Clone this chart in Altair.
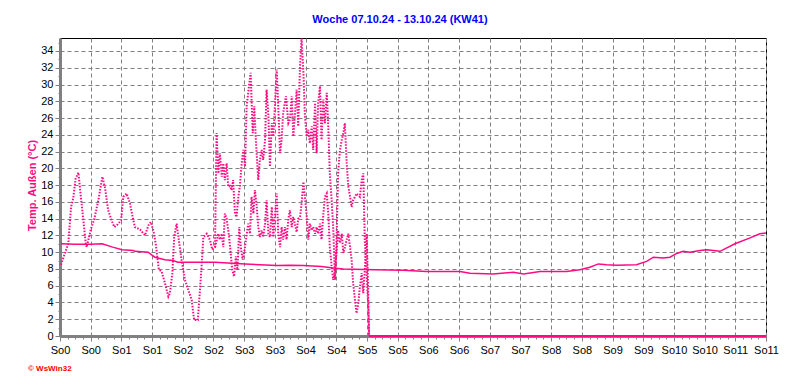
import altair as alt
import pandas as pd

# x positions are in axis units (one unit = one grid column, 0..23)
outdoor_x = [0.03, 0.27, 0.36, 0.43, 0.51, 0.60, 0.68, 0.76, 0.84, 0.87, 0.92, 1.01, 1.12, 1.25, 1.38, 1.47,
             1.57, 1.68, 1.77, 1.85, 1.99, 2.06, 2.17, 2.28, 2.39, 2.44, 2.61, 2.77, 2.88, 2.96, 3.04, 3.12,
             3.18, 3.22, 3.31, 3.42, 3.53, 3.58, 3.66, 3.72, 3.80, 3.85, 3.96, 4.07, 4.18, 4.29, 4.37, 4.49,
             4.56, 4.62, 4.67, 4.78, 4.89, 4.96, 5.05, 5.10, 5.16, 5.21, 5.27, 5.32, 5.37, 5.43, 5.48, 5.54,
             5.59, 5.64, 5.70, 5.75, 5.81, 5.86, 5.92, 5.97, 6.03, 6.08, 6.17, 6.21, 6.28, 6.33, 6.38, 6.46,
             6.51, 6.57, 6.62, 6.68, 6.73, 6.79, 6.84, 6.90, 6.95, 7.06, 7.11, 7.17, 7.22, 7.27, 7.36, 7.44,
             7.49, 7.55, 7.60, 7.65, 7.71, 7.76, 7.82, 7.87, 7.93, 7.98, 8.04, 8.09, 8.14, 8.20, 8.25, 8.31,
             8.36, 8.41, 8.47, 8.52, 8.58, 8.63, 8.69, 8.74, 8.79, 8.85, 8.90, 8.96, 9.01, 9.06, 9.12, 9.18,
             9.23, 9.28, 9.34, 9.39, 9.45, 9.50, 9.55, 9.61, 9.66, 9.77, 9.83, 9.88, 9.93, 9.99, 10.04, 10.07]
outdoor_t = [8.5, 11.0, 15.4, 16.4, 18.8, 19.5, 16.6, 13.8, 11.0, 10.6, 11.4, 12.8, 14.0, 16.2, 19.0, 17.6,
             15.0, 13.8, 13.0, 13.2, 13.8, 16.6, 17.0, 15.8, 13.8, 13.0, 12.7, 12.0, 13.2, 13.6, 12.6, 11.0,
             9.1, 7.9, 7.7, 6.3, 4.7, 5.1, 7.5, 11.8, 13.4, 12.0, 9.1, 6.7, 5.5, 4.3, 1.9, 1.9,
             5.5, 8.7, 11.8, 12.2, 11.4, 10.3, 10.6, 24.2, 19.4, 21.8, 19.0, 20.6, 18.6, 20.6, 17.8, 17.9,
             17.4, 18.6, 14.6, 14.2, 16.6, 17.9, 20.6, 22.2, 20.2, 27.4, 30.2, 31.4, 24.2, 27.4, 23.4, 18.6,
             21.0, 22.2, 21.0, 23.4, 29.4, 26.2, 20.2, 25.4, 23.8, 31.8, 27.4, 21.8, 23.4, 26.6, 28.6, 25.4,
             25.8, 28.6, 23.8, 26.2, 29.4, 25.0, 32.2, 35.5, 31.4, 26.2, 23.8, 24.6, 23.0, 25.0, 22.2, 27.8,
             21.8, 27.8, 29.8, 23.4, 28.2, 25.4, 29.0, 25.0, 19.4, 16.2, 13.0, 6.7, 11.4, 19.4, 22.2, 23.4,
             24.2, 25.4, 20.6, 17.9, 16.6, 15.4, 16.2, 16.6, 17.0, 16.6, 18.6, 19.4, 11.4, 7.5, 3.5, 0.0]

shade_x = [5.05, 5.16, 5.21, 5.27, 5.32, 5.37, 5.43, 5.51, 5.56, 5.61, 5.67, 5.73, 5.78, 5.84, 5.89, 5.95,
           6.00, 6.06, 6.13, 6.19, 6.24, 6.30, 6.35, 6.41, 6.46, 6.51, 6.57, 6.62, 6.68, 6.73, 6.79, 6.84,
           6.90, 6.95, 7.00, 7.06, 7.11, 7.17, 7.22, 7.27, 7.33, 7.38, 7.44, 7.49, 7.55, 7.60, 7.65, 7.71,
           7.76, 7.82, 7.87, 7.93, 7.98, 8.04, 8.09, 8.14, 8.20, 8.25, 8.31, 8.36, 8.41, 8.47, 8.52, 8.58,
           8.63, 8.69, 8.74, 8.79, 8.85, 8.90, 8.96, 9.01, 9.06, 9.12, 9.18, 9.23, 9.28, 9.34, 9.39, 9.45,
           9.50, 9.55, 9.61, 9.66, 9.72, 9.77, 9.83, 9.88, 9.93, 9.99, 10.04, 10.07]
shade_t = [10.6, 12.2, 11.5, 12.2, 10.6, 14.6, 14.0, 11.8, 9.9, 7.9, 7.1, 9.5, 7.9, 13.0, 10.6, 9.1,
           9.9, 11.5, 13.4, 12.2, 16.6, 14.6, 17.4, 15.4, 13.0, 11.8, 12.6, 11.8, 13.4, 16.2, 12.2, 11.8,
           15.4, 11.8, 14.2, 17.0, 12.2, 10.6, 13.0, 11.5, 13.0, 11.5, 14.0, 15.0, 13.0, 14.2, 13.4, 12.4,
           14.0, 14.2, 15.8, 18.4, 16.6, 14.2, 11.5, 13.4, 12.6, 13.0, 12.2, 13.0, 12.2, 13.4, 11.5, 14.6,
           16.6, 17.0, 14.6, 10.6, 8.3, 6.7, 7.9, 9.9, 12.6, 11.1, 12.2, 9.9, 10.6, 11.5, 12.2, 10.6,
           9.1, 6.3, 4.3, 2.7, 3.9, 5.9, 7.5, 5.1, 7.9, 12.2, 5.5, 0.0]

offline_x = [10.07, 23.0]
offline_t = [0.0, 0.0]

mean_x = [0.03, 0.5, 1.0, 1.37, 1.72, 2.02, 2.39, 2.44, 2.87, 3.09, 3.42, 3.68, 3.84, 5.05, 6.03, 7.07,
          7.49, 7.93, 8.52, 8.90, 9.23, 10.26, 11.18, 11.94, 13.03, 13.36, 14.11, 14.77, 15.10, 15.64, 16.50,
          16.94, 17.26, 17.54, 17.81, 18.13, 18.78, 19.11, 19.33, 19.65, 19.87, 20.09, 20.30, 20.52, 20.85,
          21.07, 21.50, 21.99, 22.48, 22.80, 23.0]
mean_t = [11.0, 10.95, 10.95, 11.0, 10.6, 10.3, 10.2, 10.1, 10.0, 9.4, 9.1, 9.0, 8.8, 8.8, 8.6, 8.4,
          8.45, 8.4, 8.3, 8.1, 8.0, 7.9, 7.85, 7.7, 7.7, 7.5, 7.4, 7.6, 7.4, 7.7, 7.7,
          7.9, 8.2, 8.6, 8.5, 8.45, 8.5, 8.9, 9.4, 9.3, 9.4, 9.85, 10.1, 10.0, 10.2,
          10.3, 10.1, 11.0, 11.7, 12.2, 12.3]

x_major = list(range(0, 24))
x_minor = [i * 0.25 for i in range(93)]
y_major = list(range(0, 36, 2))
y_minor = list(range(0, 36))

TITLE = "Woche 07.10.24 - 13.10.24 (KW41)"
Y_TITLE = "Temp. Außen (°C)"
CREDIT = "© WsWin32"

PINK = "#ff0a82"
FONT = "Liberation Sans"

xs = alt.Scale(domain=[0, 23], nice=False, zero=False)
ys = alt.Scale(domain=[0, 35.55], nice=False, zero=False)

x_axis = alt.Axis(
    values=x_major, tickCount=500,
    labelExpr="'So' + floor(datum.value / 2)",
    labelOverlap=False, labelFlush=False, labelBound=False,
    tickSize=5, title=None, labelPadding=3, orient="bottom",
)
y_axis = alt.Axis(
    values=y_major, tickCount=500, format="d",
    labelOverlap=False, labelFlush=False, labelBound=False,
    tickSize=5, orient="left",
    title=Y_TITLE, titleColor=PINK, titleFontWeight="bold", titleFontSize=11,
    titleFont=FONT, titleX=-23, titleY=147, titleAngle=-90, titleBaseline="bottom",
    labelPadding=2,
)
x_minor_axis = alt.Axis(values=x_minor, tickCount=500, labels=False, grid=False, domain=False,
                        tickSize=3, title=None, orient="bottom")
y_minor_axis = alt.Axis(values=y_minor, tickCount=500, labels=False, grid=False, domain=False,
                        tickSize=2, title=None, orient="left")

df_out = pd.DataFrame({"x": outdoor_x, "t": outdoor_t})
df_shade = pd.DataFrame({"x": shade_x, "t": shade_t})
df_off = pd.DataFrame({"x": offline_x, "t": offline_t})
df_mean = pd.DataFrame({"x": mean_x, "t": mean_t})

dotted = alt.Chart(df_out).mark_line(color=PINK, strokeWidth=2, strokeDash=[1.5, 1.5]).encode(
    x=alt.X("x:Q", scale=xs, axis=x_axis), y=alt.Y("t:Q", scale=ys, axis=y_axis))
dotted2 = alt.Chart(df_shade).mark_line(color=PINK, strokeWidth=2, strokeDash=[1.5, 1.5]).encode(
    x="x:Q", y="t:Q")
offline = alt.Chart(df_off).mark_line(color=PINK, strokeWidth=2).encode(x="x:Q", y="t:Q")
mean = alt.Chart(df_mean).mark_line(color=PINK, strokeWidth=1.5).encode(x="x:Q", y="t:Q")
credit = alt.Chart(pd.DataFrame({"label": [CREDIT]})).mark_text(
    color="#ff0000", fontSize=8, fontWeight="bold", font=FONT, align="left", baseline="middle"
).encode(x=alt.value(-32), y=alt.value(331), text="label:N")

main = alt.layer(dotted, dotted2, offline, mean, credit)

minor = alt.Chart(df_off).mark_line(opacity=0).encode(
    x=alt.X("x:Q", scale=xs, axis=x_minor_axis),
    y=alt.Y("t:Q", scale=ys, axis=y_minor_axis),
)

chart = alt.layer(main, minor).resolve_scale(x="independent", y="independent").properties(
    width=706, height=298,
    autosize=alt.AutoSizeParams(type="none"),
    padding={"left": 52, "top": 30, "right": 18, "bottom": 40},
    title=alt.TitleParams(TITLE, color="#0000ff", fontSize=11, font=FONT, fontWeight="bold",
                          anchor="middle", offset=9, dx=-13),
    background="white",
).configure_view(stroke="black", strokeWidth=1).configure_axis(
    domainColor="#808080", domainWidth=3, tickColor="#808080", gridColor="#808080",
    gridDash=[4, 3], gridWidth=1, labelFont=FONT, labelFontSize=11, labelColor="black",
)

chart.save("out.html", embed_options={"renderer": "svg", "actions": False})
